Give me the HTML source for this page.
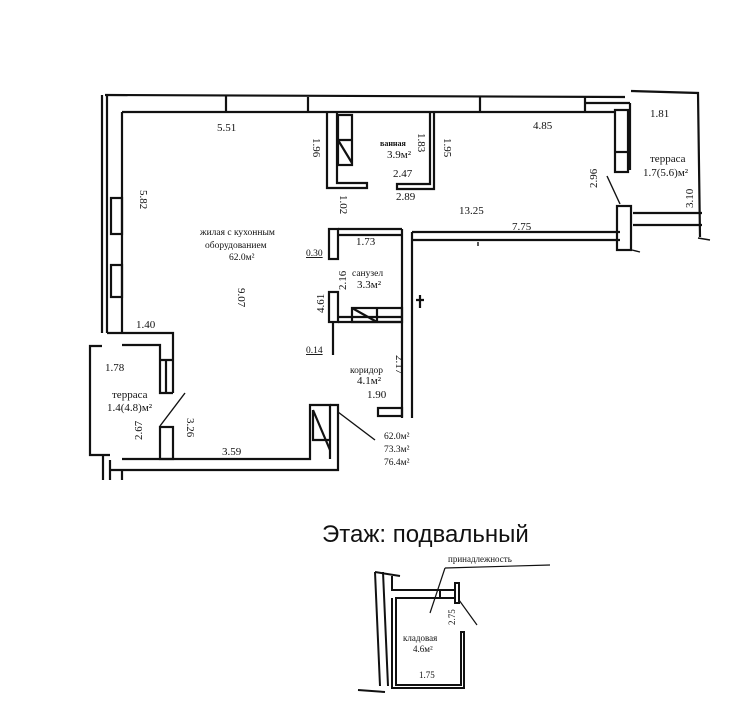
<!DOCTYPE html>
<html><head><meta charset="utf-8"><style>
html,body{margin:0;padding:0;background:#fff;}
svg{display:block;}
text{font-family:"Liberation Serif","DejaVu Serif",serif;fill:#111;}
</style></head><body>
<svg width="750" height="724" viewBox="0 0 750 724" xmlns="http://www.w3.org/2000/svg">
<g fill="none" stroke="#111" stroke-width="2.2">
<path d="M105 95 L625 97"/>
<path d="M122 112 L615 112"/>
<path d="M226 96 L226 112 M308 97 L308 112 M480 97 L480 112 M585 97 L585 112"/>
<path d="M585 103 L630 103"/>
<path d="M107 95 L107 333"/>
<path d="M122 112 L122 333"/>
<path d="M102 95 L102 333"/>
<rect x="111" y="198" width="11" height="36"/>
<rect x="111" y="265" width="11" height="32"/>
<path d="M107 333 L173 333 L173 393"/>
<path d="M122 345 L160 345 L160 393 L173 393"/>
<path d="M160 360 L173 360 M166 360 L166 393"/>
<path d="M102 346 L90 346 L90 455 L110 455"/>
<line x1="160" y1="426" x2="185" y2="393" stroke-width="1.4"/>
<rect x="160" y="427" width="13" height="32"/>
<path d="M110 470 L338 470 L338 405 L330 405"/>
<path d="M122 459 L310 459 L310 405 L330 405 L330 459"/>
<path d="M103 455 L103 480 M110 460 L110 480 M122 470 L122 480"/>
<path d="M313 410 L330 450 M313 410 L313 440 L330 440"/>
<line x1="338" y1="412" x2="375" y2="440" stroke-width="1.4"/>
<path d="M327 112 L327 188 L367 188 L367 183 L337 183 L337 112"/>
<rect x="338" y="115" width="14" height="50"/>
<path d="M338 140 L352 140 M338 140 L352 163"/>
<path d="M434 112 L434 189 L397 189 L397 184 L430 184 L430 112"/>
<path d="M412 232 L620 232"/>
<path d="M412 240 L620 240"/>
<rect x="329" y="229" width="9" height="30"/>
<path d="M338 229 L402 229 M338 235 L402 235"/>
<path d="M402 229 L402 418 M412 232 L412 418"/>
<path d="M416 300 L424 300 M420 295 L420 308"/>
<rect x="329" y="292" width="9" height="30"/>
<path d="M338 317 L402 317 M338 322 L402 322"/>
<rect x="352" y="308" width="50" height="14"/>
<path d="M352 308 L377 322 M377 308 L377 322"/>
<path d="M333 322 L333 355"/>
<rect x="378" y="408" width="24" height="8"/>
<path d="M631 91 L698 93 L700 237"/>
<path d="M633 213 L702 213 M633 225 L702 225"/>
<rect x="617" y="206" width="14" height="44"/>
<rect x="615" y="110" width="13" height="62"/>
<path d="M615 152 L628 152"/>
<path d="M630 103 L630 170"/>
<line x1="607" y1="176" x2="620" y2="204" stroke-width="1.4"/>
<path d="M632 250 L640 252 M698 238 L710 240" stroke-width="1.4"/>
<path d="M478 242 L478 246" stroke-width="1.4"/>
</g>
<g font-size="11">
<text x="217" y="131">5.51</text>
<text transform="translate(313,138) rotate(90)">1.96</text>
<text x="380" y="146" font-size="8" font-weight="bold">ванная</text>
<text x="387" y="158">3.9м²</text>
<text transform="translate(418,133) rotate(90)">1.83</text>
<text transform="translate(444,138) rotate(90)">1.95</text>
<text x="393" y="177">2.47</text>
<text x="396" y="200">2.89</text>
<text x="533" y="129">4.85</text>
<text x="650" y="117">1.81</text>
<text x="650" y="162">терраса</text>
<text x="643" y="176">1.7(5.6)м²</text>
<text transform="translate(597,188) rotate(-90)">2.96</text>
<text transform="translate(693,208) rotate(-90)">3.10</text>
<text x="459" y="214">13.25</text>
<text x="512" y="230">7.75</text>
<text transform="translate(340,195) rotate(90)">1.02</text>
<text transform="translate(140,190) rotate(90)">5.82</text>
<text x="200" y="235" font-size="9.5">жилая с кухонным</text>
<text x="205" y="248" font-size="9.5">оборудованием</text>
<text x="229" y="260" font-size="9.5">62.0м²</text>
<text transform="translate(238,288) rotate(90)">9.07</text>
<text x="306" y="256" text-decoration="underline" font-size="9.5">0.30</text>
<text x="356" y="245">1.73</text>
<text x="352" y="276" font-size="9.5">санузел</text>
<text x="357" y="288">3.3м²</text>
<text transform="translate(346,290) rotate(-90)">2.16</text>
<text transform="translate(324,313) rotate(-90)">4.61</text>
<text x="306" y="353" text-decoration="underline" font-size="9.5">0.14</text>
<text transform="translate(396,355) rotate(90)">2.17</text>
<text x="350" y="373" font-size="9.5">коридор</text>
<text x="357" y="384">4.1м²</text>
<text x="367" y="398">1.90</text>
<text x="136" y="328">1.40</text>
<text x="105" y="371">1.78</text>
<text x="112" y="398">терраса</text>
<text x="107" y="411">1.4(4.8)м²</text>
<text transform="translate(142,440) rotate(-90)">2.67</text>
<text transform="translate(187,418) rotate(90)">3.26</text>
<text x="222" y="455">3.59</text>
<text x="384" y="439" font-size="9.5">62.0м²</text>
<text x="384" y="452" font-size="9.5">73.3м²</text>
<text x="384" y="465" font-size="9.5">76.4м²</text>
</g>
<text x="322" y="542" font-size="24" style="font-family:'Liberation Sans',sans-serif">Этаж: подвальный</text>
<g fill="none" stroke="#111" stroke-width="2">
<path d="M375 572 L380 686 M383 572 L388 686"/>
<path d="M375 572 L400 576"/>
<path d="M392 576 L392 590 L440 590"/>
<path d="M392 598 L392 688 L464 688 L464 632 L461 632 L461 685 L396 685 L396 598 L440 598"/>
<path d="M432 590 L455 590 M440 590 L440 598 M455 590 L455 598 L440 598"/>
<rect x="455" y="583" width="4" height="20"/>
<path d="M358 690 L385 692"/>
<line x1="459" y1="600" x2="477" y2="625" stroke-width="1.2"/>
<line x1="445" y1="568" x2="430" y2="613" stroke-width="1.2"/>
<line x1="445" y1="568" x2="550" y2="565" stroke-width="1.2"/>
</g>
<g font-size="9">
<text x="448" y="562">принадлежность</text>
<text transform="translate(455,625) rotate(-90)">2.75</text>
<text x="403" y="641">кладовая</text>
<text x="413" y="652">4.6м²</text>
<text x="419" y="678">1.75</text>
</g>
</svg>
</body></html>
